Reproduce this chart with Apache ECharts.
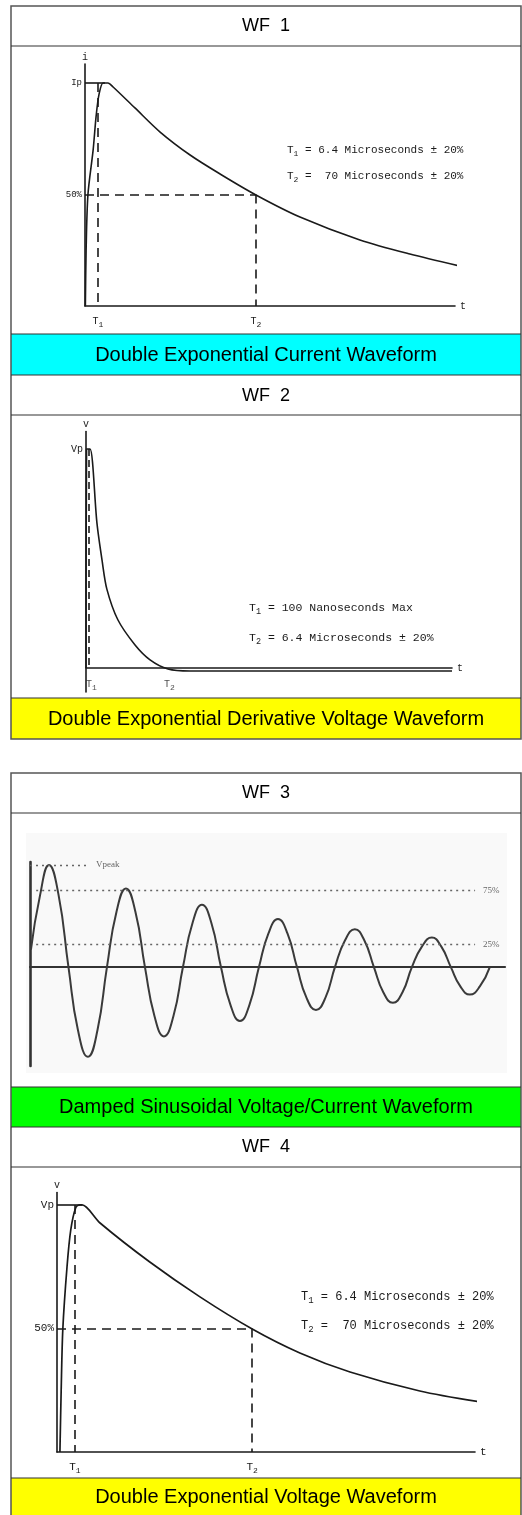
<!DOCTYPE html>
<html>
<head>
<meta charset="utf-8">
<script src="https://cdn.jsdelivr.net/npm/echarts@6/dist/echarts.min.js"></script>
<style>
  html, body { margin: 0; padding: 0; background: #fff; }
  #main { width: 522px; height: 1515px; }
</style>
</head>
<body>
<div id="main"></div>
<script>
// WF1 - double exponential current (t in % of axis, level in % of Ip)
const wf1Time  = [0.1, 0.3, 0.8, 2.2, 3.0, 3.8, 4.9, 6.2, 7.6, 13.5, 20.3, 28.4, 36.5, 46.2, 58.1, 74.3, 87.8, 101.4];
const wf1Level = [0, 25, 50, 70, 85, 95, 100, 100, 98.2, 88.8, 78, 67.7, 59.2, 49.8, 39.9, 29.6, 23.3, 17.9];
const wf1Marks = [3.5, 46.2]; // T1, T2

// WF2 - double exponential derivative voltage
const wf2Time  = [0, 0.15, 1.1, 3.0, 4.4, 5.7, 8.7, 13.4, 17.5, 22.4, 28.4, 100];
const wf2Level = [0, 100, 100, 66, 49, 36, 22, 10.5, 3.7, -0.5, -1.4, -1.4];
const wf2Marks = [0.8, 22.4];
const wf2TickAt = [1.5, 22.8]; // where the T1 / T2 labels sit

// WF3 - damped sinusoid (level in % of Vpeak)
const wf3Time  = [0.02, 0.21, 0.40, 0.60, 0.81, 1.01, 1.22, 1.42, 1.62, 1.82, 2.02, 2.22, 2.42,
                  2.62, 2.82, 3.02, 3.22, 3.42, 3.62, 3.82, 4.02, 4.22, 4.42, 4.62, 4.82,
                  5.02, 5.22, 5.42, 5.62, 5.82, 6.02, 6.22, 6.42, 6.63, 6.84, 7.04, 7.24,
                  7.44, 7.64, 7.84, 8.04, 8.25, 8.46, 8.66, 8.86, 9.06, 9.26, 9.47, 9.68];
const wf3Level = [17, 70, 100, 71, 0, -62, -88, -62, 0, 54, 77, 54, 0,
                  -48, -68, -48, 0, 43, 61, 43, 0, -37, -53, -37, 0,
                  33, 47, 33, 0, -30, -42, -30, 0, 26, 37, 26, 0,
                  -25, -35, -25, 0, 20, 29, 20, 0, -19, -27, -19, 0];
const wf3Guides = [100, 75, 22]; // Vpeak, 75%, 25% dotted lines

// WF4 - double exponential voltage
const wf4Time  = [0.7, 1.0, 1.4, 2.4, 3.3, 4.5, 5.5, 6.0, 10.3, 22.2, 34.2, 46.7, 58.1, 70.1, 86.8, 101.4];
const wf4Level = [0, 25, 50, 75, 90, 99, 100, 100, 92.7, 76.9, 62.8, 49.8, 40.1, 32.4, 24.7, 20.2];
const wf4Marks = [4.3, 46.7];

const headers  = ['WF  1', 'WF  2', 'WF  3', 'WF  4'];
const captions = ['Double Exponential Current Waveform',
                  'Double Exponential Derivative Voltage Waveform',
                  'Damped Sinusoidal Voltage/Current Waveform',
                  'Double Exponential Voltage Waveform'];

const MONO = '"Liberation Mono", "DejaVu Sans Mono", monospace';
const SANS = '"Liberation Sans", Arial, sans-serif';
const INK = '#1a1a1a';

const zip = (a, b) => a.map((v, i) => [v, b[i]]);
const sub = { fontSize: 8, fontFamily: MONO, color: INK, padding: [7, 0, 0, 0] };
const dash = { type: [9, 6], color: INK, width: 1.6 };

function tLabel(marks, size) {
  return {
    show: true,
    customValues: marks,
    margin: 8,
    fontFamily: MONO,
    fontSize: size,
    color: INK,
    formatter: v => (v === marks[0] ? 'T{s|1}' : 'T{s|2}'),
    rich: { s: sub }
  };
}

function xAxisFor(i, max) {
  return {
    type: 'value', gridIndex: i, min: 0, max: max,
    name: 't', nameLocation: 'end', nameGap: 5,
    nameTextStyle: { fontFamily: MONO, fontSize: 10, color: INK },
    axisLine: { show: true, onZero: true, lineStyle: { color: INK, width: 1.6 } },
    axisTick: { show: false }, splitLine: { show: false }
  };
}

function yAxisFor(i, min, max, name) {
  return {
    type: 'value', gridIndex: i, min: min, max: max,
    name: name, nameLocation: 'end', nameGap: 2,
    nameTextStyle: { fontFamily: MONO, fontSize: 10, color: INK, align: 'center' },
    axisLine: { show: true, onZero: false, lineStyle: { color: INK, width: 1.6 } },
    axisTick: { show: false }, splitLine: { show: false }
  };
}

function note(x, y, size, lines) {
  return lines.map((t, k) => ({
    type: 'text', left: x, top: y[k] - size / 2 - 1,
    style: {
      text: t, fontFamily: MONO, fontSize: size, fill: INK,
      rich: { s: Object.assign({}, sub, { fontSize: size - 3 }) }
    }
  }));
}

// table frame
const frame = [];
[[334, 41, '#00ffff'], [698, 41, '#ffff00'], [1087, 40, '#00ff00'], [1478, 40, '#ffff00']].forEach(r => {
  frame.push({ type: 'rect', shape: { x: 11, y: r[0], width: 510, height: r[1] }, style: { fill: r[2] }, z: 0 });
});
frame.push({ type: 'rect', shape: { x: 26, y: 833, width: 481, height: 240 }, style: { fill: '#f9f9f9' }, z: 0 });
frame.push({ type: 'rect', shape: { x: 11, y: 6, width: 510, height: 733 }, style: { fill: 'none', stroke: '#555', lineWidth: 1.5 }, z: 1 });
frame.push({ type: 'rect', shape: { x: 11, y: 773, width: 510, height: 760 }, style: { fill: 'none', stroke: '#555', lineWidth: 1.5 }, z: 1 });
[46, 334, 375, 415, 698, 813, 1087, 1127, 1167, 1478].forEach(y => {
  frame.push({ type: 'line', shape: { x1: 11, y1: y, x2: 521, y2: y }, style: { stroke: '#333', lineWidth: 1.2 }, z: 1 });
});
[26, 396, 793, 1147].forEach((y, i) => {
  frame.push({ type: 'text', x: 266, y: y, style: { text: headers[i], font: '18px ' + SANS, fill: '#000', align: 'center', verticalAlign: 'middle' }, z: 2 });
});
[355, 719, 1107, 1497].forEach((y, i) => {
  frame.push({ type: 'text', x: 266, y: y, style: { text: captions[i], font: '20px ' + SANS, fill: '#000', align: 'center', verticalAlign: 'middle' }, z: 2 });
});

const notes = [].concat(
  note(287, [151, 177], 11, ['T{s|1} = 6.4 Microseconds ± 20%', 'T{s|2} =  70 Microseconds ± 20%']),
  note(249, [609, 639], 11.5, ['T{s|1} = 100 Nanoseconds Max', 'T{s|2} = 6.4 Microseconds ± 20%']),
  note(301, [1298, 1327], 12, ['T{s|1} = 6.4 Microseconds ± 20%', 'T{s|2} =  70 Microseconds ± 20%'])
);

const chart = echarts.init(document.getElementById('main'), null, { renderer: 'canvas' });

const levelLabel = (marks, size) => ({
  show: true, customValues: marks.values, margin: 3,
  fontFamily: MONO, fontSize: size, color: INK,
  formatter: v => marks.names[marks.values.indexOf(v)]
});

chart.setOption({
  animation: false,
  backgroundColor: '#fff',
  graphic: frame.concat(notes),
  grid: [
    { left: 85, top: 64, width: 370, height: 242 },
    { left: 86, top: 431.5, width: 366, height: 260.5 },
    { left: 30, top: 862, width: 475, height: 204 },
    { left: 57, top: 1192.6, width: 418, height: 259.4 }
  ],
  xAxis: [
    Object.assign(xAxisFor(0, 100), { axisLabel: tLabel(wf1Marks, 10) }),
    Object.assign(xAxisFor(1, 100), { axisLabel: { show: false } }),
    Object.assign(xAxisFor(2, 10), {
      name: '', axisLabel: { show: false },
      axisLine: { show: true, onZero: true, lineStyle: { color: '#333', width: 2.2 } }
    }),
    Object.assign(xAxisFor(3, 100), {
      nameTextStyle: { fontFamily: MONO, fontSize: 11, color: INK },
      axisLabel: tLabel(wf4Marks, 11)
    })
  ],
  yAxis: [
    Object.assign(yAxisFor(0, 0, 108.5, 'i'), { axisLabel: levelLabel({ values: [50, 100], names: ['50%', 'Ip'] }, 9) }),
    Object.assign(yAxisFor(1, -11, 108, 'v'), { axisLabel: levelLabel({ values: [100], names: ['Vp'] }, 10) }),
    Object.assign(yAxisFor(2, -97, 103, ''), {
      axisLabel: { show: false },
      axisLine: { show: true, onZero: false, lineStyle: { color: '#333', width: 2.6 } }
    }),
    Object.assign(yAxisFor(3, 0, 105, 'v'), { axisLabel: levelLabel({ values: [50, 100], names: ['50%', 'Vp'] }, 11) })
  ],
  series: [
    {
      name: 'WF1', type: 'line', xAxisIndex: 0, yAxisIndex: 0,
      data: zip(wf1Time, wf1Level), smooth: 0.3, clip: false,
      symbol: 'none', lineStyle: { color: INK, width: 1.6 },
      markLine: {
        silent: true, symbol: 'none', label: { show: false }, lineStyle: dash,
        data: [
          [{ coord: [0, 100] }, { coord: [5.4, 100], lineStyle: { type: 'solid' } }],
          [{ coord: [0, 50] }, { coord: [wf1Marks[1], 50] }],
          [{ coord: [wf1Marks[0], 100] }, { coord: [wf1Marks[0], 0] }],
          [{ coord: [wf1Marks[1], 50] }, { coord: [wf1Marks[1], 0] }]
        ]
      }
    },
    {
      name: 'WF2', type: 'line', xAxisIndex: 1, yAxisIndex: 1,
      data: zip(wf2Time, wf2Level), smooth: 0.3, clip: false,
      symbol: 'none', lineStyle: { color: INK, width: 1.6 },
      markLine: {
        silent: true, symbol: 'none', label: { show: false }, lineStyle: Object.assign({}, dash, { type: [7, 4] }),
        data: [[{ coord: [wf2Marks[0], 100] }, { coord: [wf2Marks[0], 0] }]]
      }
    },
    {
      name: 'WF2 ticks', type: 'scatter', xAxisIndex: 1, yAxisIndex: 1,
      data: wf2TickAt.map(t => [t, 0]), symbolSize: 1, silent: true,
      itemStyle: { color: 'rgba(0,0,0,0)' },
      label: {
        show: true, position: 'bottom', distance: 8,
        fontFamily: MONO, fontSize: 10, color: INK,
        formatter: p => 'T{s|' + (p.dataIndex + 1) + '}',
        rich: { s: sub }
      }
    },
    {
      name: 'WF3', type: 'line', xAxisIndex: 2, yAxisIndex: 2,
      data: zip(wf3Time, wf3Level), smooth: 0.5, clip: false,
      symbol: 'none', lineStyle: { color: '#3a3a3a', width: 2 },
      markLine: {
        silent: true, symbol: 'none',
        lineStyle: { type: [2, 4], color: '#666', width: 1.4 },
        label: { show: true, position: 'end', distance: 8, fontFamily: '"Liberation Serif", "DejaVu Serif", serif', fontSize: 9, color: '#666' },
        data: [
          [{ coord: [0, wf3Guides[0]] }, { coord: [1.22, wf3Guides[0]], label: { formatter: 'Vpeak', padding: [10, 0, 0, 0] } }],
          [{ coord: [0.13, wf3Guides[1]] }, { coord: [9.37, wf3Guides[1]], label: { formatter: '75%' } }],
          [{ coord: [0.13, wf3Guides[2]] }, { coord: [9.37, wf3Guides[2]], label: { formatter: '25%' } }]
        ]
      }
    },
    {
      name: 'WF4', type: 'line', xAxisIndex: 3, yAxisIndex: 3,
      data: zip(wf4Time, wf4Level), smooth: 0.3, clip: false,
      symbol: 'none', lineStyle: { color: INK, width: 1.7 },
      markLine: {
        silent: true, symbol: 'none', label: { show: false }, lineStyle: dash,
        data: [
          [{ coord: [0, 100] }, { coord: [6, 100], lineStyle: { type: 'solid' } }],
          [{ coord: [0, 50] }, { coord: [wf4Marks[1], 50] }],
          [{ coord: [wf4Marks[0], 100] }, { coord: [wf4Marks[0], 0] }],
          [{ coord: [wf4Marks[1], 50] }, { coord: [wf4Marks[1], 0] }]
        ]
      }
    }
  ]
});
</script>
</body>
</html>
